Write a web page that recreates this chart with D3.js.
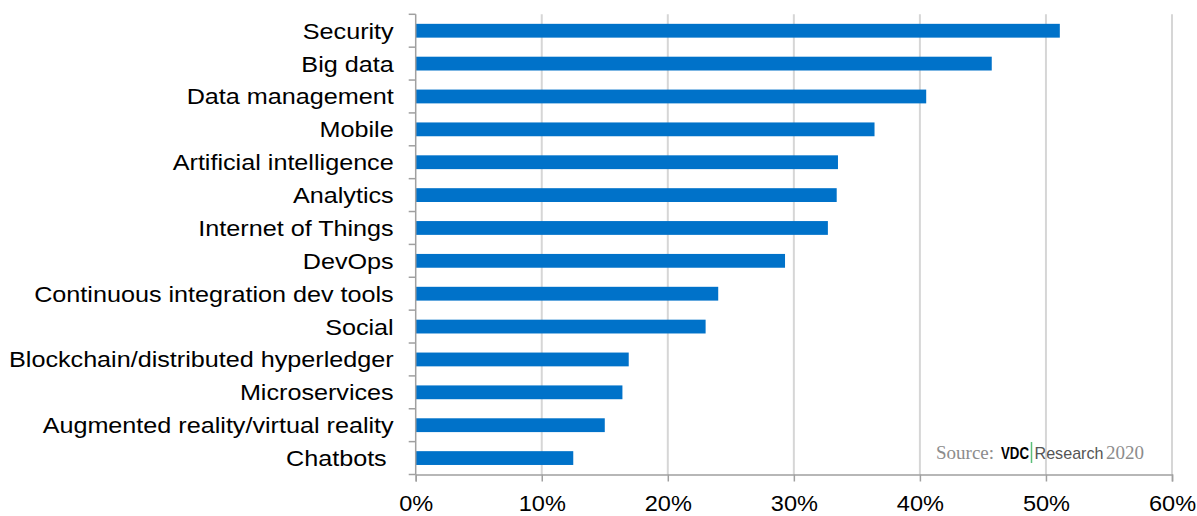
<!DOCTYPE html>
<html>
<meta charset="utf-8">
<script src="https://d3js.org/d3.v7.min.js"></script>
<style>
  body { margin: 0; background: #fff; }
  text { font-family: "Liberation Sans", Arial, sans-serif; white-space: pre; }
</style>
<body>
<div id="chart"></div>
<script>
// categories, top to bottom
var categories = ["Security", "Big data", "Data management", "Mobile", "Artificial intelligence",
  "Analytics", "Internet of Things", "DevOps", "Continuous integration dev tools", "Social",
  "Blockchain/distributed hyperledger", "Microservices", "Augmented reality/virtual reality", "Chatbots "];
// share of respondents, percent
var values = [51.1, 45.7, 40.5, 36.4, 33.5, 33.4, 32.7, 29.3, 24.0, 23.0, 16.9, 16.4, 15.0, 12.5];
var xTicks = [0, 10, 20, 30, 40, 50, 60];

var W = 1197, H = 516;
var margin = {top: 14.3, right: 25, bottom: 41.5, left: 415.7},
    width = W - margin.left - margin.right,
    height = H - margin.top - margin.bottom;

var svg = d3.select("#chart").append("svg")
    .attr("width", W)
    .attr("height", H)
  .append("g")
    .attr("transform", "translate(" + margin.left + "," + margin.top + ")");

var x = d3.scaleLinear().domain([0, 60]).range([0, 1172 - margin.left]);
var y = d3.scaleBand().domain(categories).range([0, height]).paddingInner(0.58).paddingOuter(0.29);
var yb = d3.scaleBand().domain(categories).range([0, height]);

// gridlines
svg.selectAll(".grid").data(xTicks.slice(1))
  .enter().append("line")
    .attr("x1", function(d) { return x(d); })
    .attr("x2", function(d) { return x(d); })
    .attr("y1", 0)
    .attr("y2", height)
    .style("stroke", "#d6d6d6")
    .style("stroke-width", 2);

// bars
svg.selectAll(".bar").data(values)
  .enter().append("rect")
    .attr("x", 0)
    .attr("y", function(d, i) { return y(categories[i]); })
    .attr("width", function(d) { return x(d); })
    .attr("height", y.bandwidth())
    .style("fill", "#0072C9");

// x axis
var xAxis = svg.append("g")
    .attr("transform", "translate(0," + height + ")")
    .call(d3.axisBottom(x).tickValues(xTicks).tickSize(7).tickPadding(14)
      .tickFormat(function(d) { return d + "%"; }));
xAxis.select(".domain").style("stroke", "#a0a0a0").style("stroke-width", 1.5);
xAxis.selectAll(".tick line").style("stroke", "#a0a0a0").style("stroke-width", 1.5);
xAxis.selectAll(".tick text")
    .attr("transform", "scale(1.07,1)")
    .style("font-size", "22px").style("fill", "#000")
    .style("font-family", "Liberation Sans, Arial, sans-serif");

// y axis: ticks at band boundaries
svg.append("line")
    .attr("x1", 0).attr("x2", 0).attr("y1", 0).attr("y2", height)
    .style("stroke", "#a0a0a0").style("stroke-width", 1.5);
svg.selectAll(".ytick").data(categories.concat(["end"]))
  .enter().append("line")
    .attr("x1", -7).attr("x2", 0)
    .attr("y1", function(d, i) { return i * yb.step(); })
    .attr("y2", function(d, i) { return i * yb.step(); })
    .style("stroke", "#a0a0a0").style("stroke-width", 1.5);

svg.selectAll(".ylabel").data(categories)
  .enter().append("text")
    .attr("transform", function(d) {
      return "translate(-22," + (yb(d) + yb.bandwidth() / 2) + ") scale(1.145,1)";
    })
    .attr("dy", "0.36em")
    .attr("text-anchor", "end")
    .style("font-size", "22px")
    .style("fill", "#000")
    .text(function(d) { return d; });

// source credit
var sy = 459 - margin.top;
svg.append("text").attr("x", 936 - margin.left).attr("y", sy)
    .text("Source:")
    .style("font-family", "Liberation Serif, Times New Roman, serif")
    .style("font-size", "19px").style("fill", "#8c8c8c");
svg.append("text").attr("x", 1001 - margin.left).attr("y", sy)
    .attr("textLength", 28).attr("lengthAdjust", "spacingAndGlyphs")
    .text("VDC")
    .style("font-family", "Liberation Sans Narrow, Liberation Sans, sans-serif")
    .style("font-weight", "bold").style("font-size", "17px").style("fill", "#000");
svg.append("text").attr("x", 1034.5 - margin.left).attr("y", sy)
    .attr("textLength", 69).attr("lengthAdjust", "spacingAndGlyphs")
    .text("Research")
    .style("font-family", "Liberation Sans Narrow, Liberation Sans, sans-serif")
    .style("font-size", "17px").style("fill", "#555");
svg.append("text").attr("x", 1106 - margin.left).attr("y", sy)
    .text("2020")
    .style("font-family", "Liberation Serif, Times New Roman, serif")
    .style("font-size", "19px").style("fill", "#8c8c8c");
svg.append("line")
    .attr("x1", 1031.5 - margin.left).attr("x2", 1031.5 - margin.left)
    .attr("y1", 442 - margin.top).attr("y2", 463 - margin.top)
    .style("stroke", "#5cbf7a").style("stroke-width", 1.5);
</script>
</body>
</html>
